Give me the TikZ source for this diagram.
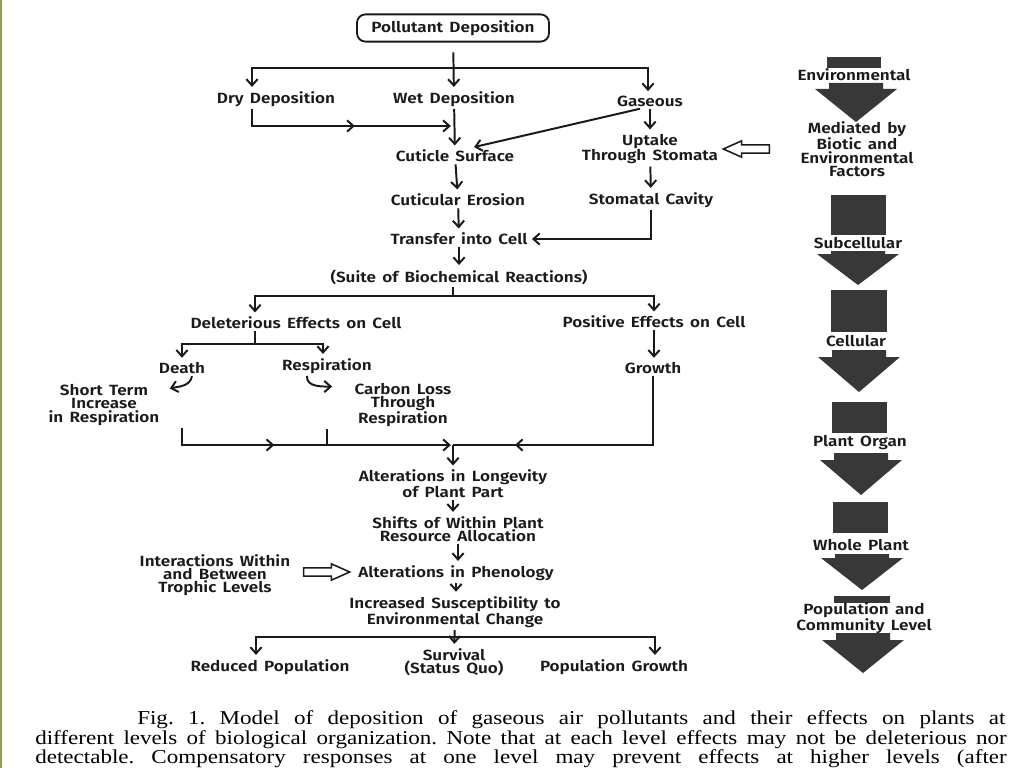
\documentclass[tikz,border=0pt]{standalone}
\usepackage{fontspec}
\setmainfont{Liberation Serif}
\newfontfamily\diagfont{Fira Sans SemiBold}[FakeStretch=1.16, WordSpace=1.5]
\newfontfamily\capfont{Liberation Serif}[FakeStretch=1.17]
\usetikzlibrary{arrows.meta, positioning, calc, shapes.arrows, decorations.markings}
\definecolor{inkgray}{HTML}{1A1A1A}
\definecolor{levelgray}{HTML}{383838}
\definecolor{edgegreen}{HTML}{8DA548}

\begin{document}
\begin{tikzpicture}[x=0.025cm, y=-0.025cm,
    lbl/.style={font=\diagfont\fontsize{10.5}{9.4}\selectfont, text=inkgray, align=center, inner sep=1.5pt},
    arr/.style={line width=1.4pt, draw=inkgray, shorten >=1.5pt, -{Straight Barb[length=4.5pt,width=8pt]}},
    line/.style={line width=1.4pt, draw=inkgray},
    midarr/.style={postaction={decorate, decoration={markings,
        mark=at position #1 with {\arrow{Straight Barb[length=4.5pt,width=8pt]}}}}},
    hollowarr/.style={single arrow, draw=inkgray, fill=white, line width=1.1pt, inner xsep=0pt, inner ysep=0.085cm,
        minimum height=1.15cm, single arrow head extend=0.1cm, single arrow tip angle=48},
    capline/.style={anchor=base west, inner sep=0pt, font=\capfont\fontsize{14}{16}\selectfont\frenchspacing}]
    \useasboundingbox (0,0) rectangle (1024,768);
    \fill[white] (0,0) rectangle (1024,768);
    \draw[edgegreen, line width=1.5pt] (1,0) -- (1,768);
    % deposition
    \node[lbl, draw=inkgray, line width=1.3pt, rounded corners=6pt, minimum width=4.8cm, minimum height=0.68cm] (poll) at (453,28) {Pollutant Deposition};
    \node[lbl] (dry) at (276,99) {Dry Deposition};
    \node[lbl] (wet) at (454,99) {Wet Deposition};
    \node[lbl] (gas) at (650,101) {Gaseous};
    \coordinate (jtop) at (453,68);
    \draw[arr, shorten <=7pt] (poll) -- (wet);
    \draw[arr] (jtop) -| ($(dry.north)+(-24,0)$);
    \draw[arr] (jtop) -| ($(gas.north)+(-2,0)$);
    % surface and stomata
    \node[lbl] (cut) at (455,156) {Cuticle Surface};
    \node[lbl] (upt) at (650,149) {Uptake\\Through Stomata};
    \node[lbl] (med) at (857,149) {Mediated by\\Biotic and\\Environmental\\Factors};
    \coordinate (jdry) at (453,126);
    \draw[arr, midarr=0.55] ($(dry.south)+(-24,0)$) |- (jdry);
    \draw[arr] (wet) -- (cut);
    \draw[arr] ($(gas.south)+(-10,0)$) -- ($(cut.north)+(17,0)$);
    \draw[arr] (gas) -- (upt);
    \node[hollowarr, shape border rotate=180] (harr1) at (751,149) {};
    \node[lbl] (ero) at (458,200) {Cuticular Erosion};
    \node[lbl] (cav) at (651,200) {Stomatal Cavity};
    \node[lbl] (cell) at (459,239) {Transfer into Cell};
    \draw[arr] (cut) -- (ero);
    \draw[arr] (upt) -- (cav);
    \draw[arr] (ero) -- (cell);
    \draw[arr] (cav.south) |- (cell.east);
    % reactions
    \node[lbl] (suite) at (459,277) {(Suite of Biochemical Reactions)};
    \node[lbl] (del) at (296,323) {Deleterious Effects on Cell};
    \node[lbl] (pos) at (654,322) {Positive Effects on Cell};
    \draw[arr] (cell) -- (suite);
    \coordinate (jsuite) at (453,296);
    \draw[line] (suite.south -| jsuite) -- (jsuite);
    \draw[arr] (jsuite) -| ($(del.north)+(-41,0)$);
    \draw[arr] (jsuite) -| (pos.north);
    \node[lbl] (death) at (182,368) {Death};
    \node[lbl] (resp) at (327,366) {Respiration};
    \node[lbl] (grow) at (653,368) {Growth};
    \coordinate (jdel) at (255,344);
    \draw[line] (del.south -| jdel) -- (jdel);
    \draw[arr] (jdel) -| (death.north);
    \draw[arr] (jdel) -| ($(resp.north)+(-4,0)$);
    \draw[arr] (pos) -- (pos |- grow.north);
    \node[lbl] (short) at (104,405) {Short Term\\Increase\\in Respiration};
    \node[lbl] (closs) at (403,405) {Carbon Loss\\Through\\Respiration};
    \draw[arr] ($(death.south)+(10,0)$) to[out=-100, in=15] ($(short.north east)+(6,7)$);
    \draw[arr] ($(resp.south)+(-20,0)$) to[out=-95, in=180] ($(closs.north west)+(-18,6)$);
    % collecting effects
    \coordinate (jcol) at (453,445);
    \draw[arr, midarr=0.38] (death.south |- short.south) |- (jcol);
    \draw[line] (resp.south |- closs.south) -- (resp.south |- jcol);
    \draw[line, midarr=0.77] (grow.south) |- (jcol);
    \node[lbl] (longev) at (453,484) {Alterations in Longevity\\of Plant Part};
    \node[lbl] (shift) at (458,529) {Shifts of Within Plant\\Resource Allocation};
    \node[lbl] (pheno) at (456,573) {Alterations in Phenology};
    \node[lbl] (troph) at (215,575) {Interactions Within\\and Between\\Trophic Levels};
    \node[lbl] (susc) at (455,612) {Increased Susceptibility to\\Environmental Change};
    \draw[arr] (jcol) -- (longev);
    \draw[arr] (longev) -- (longev |- shift.north);
    \draw[arr] (shift) -- (shift |- pheno.north);
    \node[hollowarr] (harr2) at (322,572) {};
    \draw[arr] (pheno) -- (pheno |- susc.north);
    % outcomes
    \node[lbl] (redpop) at (270,667) {Reduced Population};
    \node[lbl] (surv) at (454,662) {Survival\\(Status Quo)};
    \node[lbl] (popgr) at (614,667) {Population Growth};
    \coordinate (jend) at (453,637);
    \draw[arr] (susc) -- (surv);
    \draw[arr] (jend) -| ($(redpop.north)+(-14,0)$);
    \draw[arr] (jend) -| ($(popgr.north)+(41,0)$);
    % levels of organization
    \fill[levelgray] (827,57) rectangle (881,68);
    \fill[levelgray] (831,195) rectangle (886,235);
    \fill[levelgray] (831,290) rectangle (887,332);
    \fill[levelgray] (832,402) rectangle (887,433);
    \fill[levelgray] (833,502) rectangle (888,533);
    \fill[levelgray] (834,596) rectangle (890,603);
    \foreach \cx/\st/\tt/\tp in {856/83/89/122, 858/251/254/285, 859/350/357/392, 861/453/460/495, 862/554/558/590, 863/633/640/673}
      \fill[levelgray] (\cx-27,\st) rectangle (\cx+27,\tt) (\cx-41,\tt) -- (\cx+41,\tt) -- (\cx,\tp) -- cycle;
    \node[lbl] (env) at (854,75) {Environmental};
    \node[lbl] (subc) at (858,243) {Subcellular};
    \node[lbl] (cellu) at (856,341) {Cellular};
    \node[lbl] (organ) at (860,443) {Plant Organ};
    \node[lbl] (whole) at (861,545) {Whole Plant};
    \node[lbl] (popcom) at (864,618) {Population and\\Community Level};
    % caption
    \node[capline] (cap1) at (137,724) {\hbox to 21.7cm{Fig. 1. Model of deposition of gaseous air pollutants and their effects on plants at}};
    \node[capline] (cap2) at (35,744) {\hbox to 24.28cm{different levels of biological organization. Note that at each level effects may not be deleterious nor}};
    \node[capline] (cap3) at (35,763) {\hbox to 24.28cm{detectable. Compensatory responses at one level may prevent effects at higher levels (after}};
\end{tikzpicture}
\end{document}
